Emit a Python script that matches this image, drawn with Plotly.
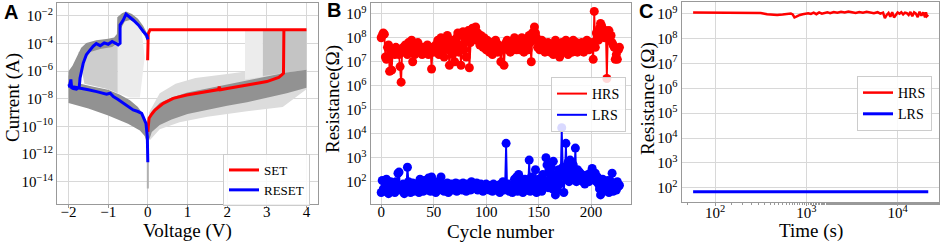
import plotly.graph_objects as go

# ---------------- Panel A data (V, log10 I) ----------------
SET_V = [0.0, 0.03, 0.1, 0.18, 0.39, 0.64, 0.98, 1.31, 1.6, 1.78, 1.8, 1.83, 2.0, 2.32, 2.6, 2.83, 3.0, 3.16, 3.3, 3.37, 3.42, 3.43, 4.0, 0.055, 0.01, -0.005]
SET_LOGI = [-10.4, -9.41, -9.1, -8.81, -8.33, -7.97, -7.72, -7.56, -7.45, -7.33, -7.12, -7.35, -7.25, -7.07, -6.95, -6.83, -6.75, -6.59, -6.45, -6.28, -6.16, -3.0, -3.0, -3.0, -3.3, -5.2]

RESET_V = [0.0, -0.03, -0.11, -0.24, -0.37, -0.49, -0.55, -0.62, -0.70, -0.70, -0.75, -0.8, -0.9, -1.0, -1.1, -1.2, -1.3, -1.38, -1.46, -1.55, -1.63, -1.67, -1.71, -1.73, -1.8, -1.88, -1.92, -1.94, -1.97, -2.0,
           -1.9, -1.71, -1.5, -1.29, -1.04, -0.95, -0.87, -0.75, -0.62, -0.5, -0.37, -0.25, -0.155, -0.047, -0.013, 0.0]
RESET_LOGI = [-3.7, -3.4, -3.14, -2.65, -2.29, -2.0, -1.86, -2.3, -2.65, -3.98, -4.1, -4.0, -3.85, -4.05, -3.95, -4.15, -4.0, -4.2, -4.46, -4.8, -5.43, -6.0, -6.51, -7.17, -7.3, -7.25, -7.2, -6.6, -7.0, -7.07,
              -7.12, -7.24, -7.35, -7.48, -7.67, -7.6, -7.84, -8.05, -8.33, -8.55, -8.81, -8.92, -9.05, -9.78, -10.75, -12.6]

# gray cycle envelopes
NEG_LOW_V = [-2.0, -1.7, -1.4, -1.0, -0.7, -0.45, -0.25, -0.1, -0.03, 0.0, 0.0, -0.02, -0.08, -0.2, -0.5, -1.0, -1.5, -2.0]
NEG_LOW_LOGI = [-6.3, -6.9, -7.1, -7.35, -7.7, -8.1, -8.6, -9.2, -9.9, -10.6, -11.8, -11.2, -10.7, -10.3, -9.8, -9.2, -8.7, -8.3]

POS_LOW_V = [0.0, 0.03, 0.1, 0.3, 0.6, 1.0, 1.5, 2.0, 2.5, 3.0, 3.5, 4.0, 4.0, 3.5, 3.0, 2.5, 2.0, 1.5, 1.0, 0.6, 0.3, 0.1, 0.03, 0.0]
POS_LOW_LOGI = [-10.6, -9.6, -8.9, -8.3, -7.9, -7.55, -7.25, -6.95, -6.7, -6.4, -6.1, -5.9, -7.2, -7.6, -7.95, -8.25, -8.5, -8.8, -9.1, -9.5, -9.9, -10.4, -11.0, -11.8]

POS_FAINT_V = [0.03, 0.3, 0.7, 1.2, 2.0, 2.8, 3.5, 4.0, 4.0, 3.4, 2.5, 1.5, 0.8, 0.3, 0.05]
POS_FAINT_LOGI = [-9.0, -7.6, -6.9, -6.5, -6.2, -5.9, -5.7, -5.6, -7.3, -8.6, -8.9, -9.3, -9.7, -10.2, -11.0]

SET_JUMP_V = [2.9, 4.0, 4.0, 3.5, 2.9]
SET_JUMP_LOGI = [-3.0, -3.0, -5.9, -6.1, -6.35]
SET_JUMP_SPARSE_V = [2.45, 2.9, 2.9, 2.45]
SET_JUMP_SPARSE_LOGI = [-3.0, -3.0, -6.4, -6.6]

NEG_MESH_V = [-1.75, -1.2, -0.76, -0.76, -1.0, -1.3, -1.6]
NEG_MESH_LOGI = [-4.6, -4.3, -3.9, -7.6, -7.3, -7.1, -6.9]
NEG_FAINT_V = [-0.76, -0.5, -0.3, -0.15, -0.08, -0.2, -0.45, -0.76]
NEG_FAINT_LOGI = [-2.3, -2.2, -2.6, -3.2, -5.0, -7.9, -7.9, -7.6]

NEG_DENSE_V = [-2.0, -2.0, -1.9, -1.8, -1.68, -1.55, -1.3, -1.0, -0.85, -0.78, -0.77, -0.65, -0.55, -0.4, -0.25, -0.12, -0.03, 0.0, 0.0, -0.06, -0.18, -0.32, -0.45, -0.58, -0.68, -0.74, -0.9, -1.2, -1.45, -1.58, -1.66, -1.72, -1.8, -1.9]
NEG_DENSE_LOGI = [-7.2, -6.0, -5.6, -5.0, -4.3, -3.95, -3.75, -3.65, -3.55, -3.3, -2.1, -1.8, -1.68, -1.85, -2.2, -2.7, -3.2, -3.6, -4.0, -3.55, -2.95, -2.5, -2.3, -2.4, -2.9, -3.9, -4.25, -4.4, -4.6, -5.1, -5.8, -6.6, -7.2, -7.3]

ZERO_SPIKE_V = [0.0, 0.0]
ZERO_SPIKE_LOGI = [-11.0, -14.5]

A_XTICKS = [-2, -1, 0, 1, 2, 3, 4]
A_YEXP = [-2, -4, -6, -8, -10, -12, -14]

# ---------------- Panel B data (log10 R per cycle) ----------------
HRS_LOG = [
    8.0, 8.1, 8.2, 8.15, 7.2, 7.1, 7.6, 7.7, 6.6, 7.5,
    6.65, 7.4, 7.5, 7.3, 7.6, 7.4, 7.5, 7.3, 6.8, 6.15,
    7.5, 7.6, 7.4, 7.7, 7.5, 7.3, 7.8, 7.6, 7.4, 7.9,
    7.0, 7.5, 7.3, 7.7, 7.6, 7.8, 7.5, 7.4, 7.6, 7.3,
    7.5, 7.6, 7.4, 7.5, 7.7, 7.3, 7.6, 7.5, 6.7, 7.6,
    7.4, 7.6, 7.7, 7.5, 7.9, 7.3, 7.6, 8.0, 7.8, 7.5,
    7.2, 7.6, 7.9, 8.1, 7.5, 6.85, 7.7, 7.9, 7.3, 7.6,
    7.0, 7.8, 8.0, 8.2, 7.4, 7.7, 6.85, 8.2, 8.25, 7.5,
    7.9, 7.2, 8.1, 8.3, 6.75, 7.8, 8.35, 8.4, 8.0, 8.1,
    8.45, 7.9, 8.2, 8.0, 7.7, 8.1, 7.9, 7.6, 8.0, 7.8,
    7.5, 7.9, 7.7, 7.4, 7.6, 7.8, 7.3, 7.7, 7.5, 7.9,
    7.6, 7.4, 7.7, 7.5, 7.0, 7.6, 7.5, 6.85, 7.6, 7.8,
    7.9, 7.5, 7.7, 7.4, 7.6, 7.8, 7.5, 8.0, 7.6, 7.5,
    7.7, 7.9, 7.5, 7.6, 8.0, 7.7, 7.4, 7.8, 7.6, 7.9,
    7.5, 8.1, 7.8, 7.0, 8.2, 7.9, 8.45, 8.2, 8.0, 7.6,
    7.8, 7.5, 7.7, 7.9, 7.6, 7.8, 7.4, 7.7, 7.5, 7.8,
    7.6, 7.4, 7.7, 7.5, 7.3, 7.6, 7.9, 7.4, 7.7, 7.5,
    7.2, 7.6, 7.8, 7.4, 7.7, 7.5, 7.9, 7.6, 7.3, 7.8,
    7.5, 7.7, 7.4, 7.9, 7.6, 7.5, 7.8, 7.4, 7.7, 7.6,
    7.5, 7.8, 7.6, 7.4, 7.7, 7.5, 7.9, 7.6, 7.5, 7.7,
    7.6, 7.8, 7.1, 9.1, 7.6, 8.2, 8.1, 7.9, 8.4, 8.6,
    8.5, 8.3, 8.2, 8.0, 8.3, 6.3, 8.2, 8.3, 8.0, 8.1,
    7.8, 7.7, 7.6, 7.1, 7.3, 7.1, 7.5, 7.6,
]
LRS_LOG = [
    1.55, 2.05, 1.7, 1.6, 1.9, 2.1, 1.75, 1.5, 1.8, 2.0,
    1.6, 1.85, 1.7, 1.55, 2.0, 1.75, 2.35, 2.4, 1.65, 1.8,
    1.7, 1.9, 1.5, 1.6, 1.8, 2.6, 2.0, 1.7, 1.55, 1.85,
    1.95, 1.6, 1.75, 1.9, 1.65, 1.8, 1.55, 2.1, 1.7, 1.85,
    1.6, 2.05, 1.75, 1.9, 1.65, 2.15, 1.8, 1.6, 2.2, 1.7,
    1.85, 1.95, 1.55, 1.75, 2.0, 1.65, 1.8, 2.2, 1.7, 1.9,
    1.6, 1.85, 1.75, 1.95, 1.55, 1.8, 1.7, 1.9, 1.65, 1.85,
    1.75, 1.95, 1.6, 1.8, 1.9, 1.7, 1.85, 1.65, 1.95, 1.75,
    1.8, 1.6, 1.9, 1.75, 1.85, 1.65, 2.0, 1.7, 1.8, 1.9,
    1.75, 1.95, 1.65, 1.85, 1.7, 1.9, 1.8, 1.6, 1.85, 1.75,
    1.9, 1.7, 1.8, 1.65, 1.85, 1.75, 1.6, 1.9, 1.7, 1.8,
    1.65, 1.85, 1.75, 1.55, 1.9, 1.7, 2.0, 1.65, 1.8, 3.6,
    1.7, 1.9, 1.6, 1.8, 1.75, 1.55, 1.9, 2.1, 1.7, 2.2,
    1.6, 2.3, 1.85, 1.7, 2.0, 1.55, 1.9, 2.1, 1.75, 1.65,
    1.8, 2.9, 1.6, 2.2, 1.7, 1.9, 1.75, 2.5, 1.55, 2.0,
    2.1, 1.7, 1.85, 1.6, 2.3, 1.8, 2.05, 3.0, 2.7, 1.75,
    2.4, 1.9, 2.6, 1.7, 2.85, 2.0, 1.45, 2.3, 1.65, 2.5,
    1.9, 2.2, 4.25, 2.6, 1.55, 2.3, 3.6, 2.1, 2.8, 2.0,
    2.9, 2.4, 2.1, 2.7, 2.3, 3.4, 2.0, 2.5, 2.2, 2.4,
    2.1, 2.3, 2.0, 2.25, 1.9, 2.2, 2.1, 2.3, 2.0, 2.15,
    2.4, 2.55, 2.2, 2.1, 2.35, 2.0, 2.2, 1.9, 1.7, 1.45,
    1.95, 2.1, 1.6, 2.0, 1.85, 1.65, 2.05, 1.55, 1.8, 2.0,
    2.35, 1.6, 1.9, 1.75, 1.65, 2.0, 1.8, 1.85,
]
CYCLES = list(range(len(HRS_LOG)))
B_XTICKS = [0, 50, 100, 150, 200]
B_YEXP = [2, 3, 4, 5, 6, 7, 8, 9]

# ---------------- Panel C data (log10 t, log10 R) ----------------
C_HRS_LOGT = [1.76, 1.85, 1.95, 2.05, 2.15, 2.25, 2.35, 2.42, 2.5, 2.57, 2.63, 2.68, 2.74, 2.79, 2.83, 2.85, 2.87, 2.89, 2.91, 2.93,
              2.96, 2.99, 3.02, 3.05, 3.08, 3.11, 3.14, 3.17, 3.2, 3.23, 3.26, 3.3, 3.34, 3.38, 3.42, 3.46, 3.5, 3.54, 3.58, 3.62,
              3.66, 3.7, 3.74, 3.78, 3.81, 3.84, 3.86, 3.88, 3.9, 3.92, 3.94, 3.96, 3.98, 4.0, 4.02, 4.04, 4.06, 4.08, 4.1, 4.12,
              4.14, 4.16, 4.18, 4.2, 4.22, 4.24, 4.26, 4.28, 4.3, 4.31, 4.32, 4.335]
C_HRS_LOGR = [9.05, 9.05, 9.05, 9.05, 9.04, 9.02, 9.04, 9.05, 9.03, 8.98, 8.96, 8.95, 8.97, 9.0, 9.01, 8.97, 8.85, 8.88, 8.92, 8.95,
              8.98, 9.0, 9.02, 8.99, 9.04, 8.98, 9.05, 9.0, 9.03, 9.06, 9.02, 9.07, 9.04, 9.08, 9.05, 9.09, 9.06, 9.03, 9.07, 9.04,
              9.08, 9.05, 9.02, 9.06, 9.0, 9.04, 8.82, 8.95, 9.03, 8.88, 9.06, 8.85, 8.98, 9.05, 9.0, 9.06, 8.97, 9.04, 9.02, 8.95,
              9.07, 8.9, 9.05, 9.0, 8.86, 9.08, 8.92, 9.05, 8.85, 9.06, 8.9, 8.95]
C_LRS_LOGT = [1.76, 4.335]
C_LRS_LOGR = [1.84, 1.84]
C_XEXP = [2, 3, 4]
C_YEXP = [2, 3, 4, 5, 6, 7, 8, 9]

# ---------------- helpers ----------------
W, H = 941, 244
def px(x):
    return x / W
def py(y):
    return 1 - y / H
def p10(vals):
    return [10 ** v for v in vals]
def sup(e):
    s = str(e).replace('-', '\u2212')
    return '10<sup>' + s + '</sup>'

SERIF = 'Liberation Serif, Times New Roman, serif'
RED = '#ff0000'
BLUE = '#0000ff'
FRAME = '#999999'
GRID = '#d8d8d8'

fig = go.Figure()

def poly(xs, ys, color, xa, ya):
    fig.add_trace(go.Scatter(x=xs + [xs[0]], y=p10(ys) + [10 ** ys[0]], mode='lines', fill='toself',
                             fillcolor=color, line=dict(width=0, color=color), showlegend=False,
                             hoverinfo='skip', xaxis=xa, yaxis=ya))

# Panel A gray bundle
poly(NEG_FAINT_V, NEG_FAINT_LOGI, '#ececec', 'x', 'y')
poly(NEG_MESH_V, NEG_MESH_LOGI, '#cdcdcd', 'x', 'y')
poly(POS_FAINT_V, POS_FAINT_LOGI, '#dcdcdc', 'x', 'y')
poly(SET_JUMP_SPARSE_V, SET_JUMP_SPARSE_LOGI, '#ececec', 'x', 'y')
poly(SET_JUMP_V, SET_JUMP_LOGI, '#c4c4c4', 'x', 'y')
poly(NEG_LOW_V, NEG_LOW_LOGI, '#929292', 'x', 'y')
poly(POS_LOW_V, POS_LOW_LOGI, '#929292', 'x', 'y')
poly(NEG_DENSE_V, NEG_DENSE_LOGI, '#929292', 'x', 'y')
fig.add_trace(go.Scatter(x=ZERO_SPIKE_V, y=p10(ZERO_SPIKE_LOGI), mode='lines', line=dict(color='#b0b0b0', width=2),
                         showlegend=False, hoverinfo='skip', xaxis='x', yaxis='y'))

fig.add_trace(go.Scatter(x=SET_V, y=p10(SET_LOGI), mode='lines', name='SET', line=dict(color=RED, width=3),
                         xaxis='x', yaxis='y', legend='legend'))
fig.add_trace(go.Scatter(x=RESET_V, y=p10(RESET_LOGI), mode='lines', name='RESET', line=dict(color=BLUE, width=3),
                         xaxis='x', yaxis='y', legend='legend'))

# Panel B (markers drawn; legend shows plain lines like the reference)
fig.add_trace(go.Scatter(x=CYCLES, y=p10(HRS_LOG), mode='lines+markers', name='HRS', showlegend=False,
                         line=dict(color=RED, width=1.8), marker=dict(color=RED, size=9),
                         xaxis='x2', yaxis='y2'))
fig.add_trace(go.Scatter(x=CYCLES, y=p10(LRS_LOG), mode='lines+markers', name='LRS', showlegend=False,
                         line=dict(color=BLUE, width=1.8), marker=dict(color=BLUE, size=9),
                         xaxis='x2', yaxis='y2'))
fig.add_trace(go.Scatter(x=[None], y=[None], mode='lines', name='HRS', line=dict(color=RED, width=2),
                         xaxis='x2', yaxis='y2', legend='legend2'))
fig.add_trace(go.Scatter(x=[None], y=[None], mode='lines', name='LRS', line=dict(color=BLUE, width=2),
                         xaxis='x2', yaxis='y2', legend='legend2'))

# Panel C
fig.add_trace(go.Scatter(x=p10(C_HRS_LOGT), y=p10(C_HRS_LOGR), mode='lines', name='HRS',
                         line=dict(color=RED, width=2.5), xaxis='x3', yaxis='y3', legend='legend3'))
fig.add_trace(go.Scatter(x=p10(C_LRS_LOGT), y=p10(C_LRS_LOGR), mode='lines', name='LRS',
                         line=dict(color=BLUE, width=3), xaxis='x3', yaxis='y3', legend='legend3'))

tickfont = dict(family=SERIF, size=15, color='black')
common = dict(showline=True, mirror=True, linecolor=FRAME, linewidth=1.2, showgrid=True, gridcolor=GRID,
              gridwidth=1, zeroline=False, tickfont=tickfont, automargin=False)

legbase = dict(xanchor='left', yanchor='top', bgcolor='rgba(255,255,255,0.85)', bordercolor='#cccccc',
               borderwidth=1, tracegroupgap=0, itemwidth=30)
layout = dict(
    width=W, height=H, autosize=False,
    margin=dict(l=0, r=0, t=0, b=0, pad=0, autoexpand=False),
    paper_bgcolor='white', plot_bgcolor='white',
    xaxis=dict(domain=[px(57), px(318)], anchor='y', range=[-2.29, 4.29], tickvals=A_XTICKS,
               ticktext=[str(v).replace('-', '\u2212') for v in A_XTICKS], ticks='outside', ticklen=3, tickcolor=FRAME,
               ticklabelstandoff=-9, **common),
    yaxis=dict(domain=[py(204.3), py(3)], anchor='x', type='log', range=[-15.64, -1.06],
               tickvals=[10 ** e for e in A_YEXP], ticktext=[sup(e) for e in A_YEXP], ticks='', **common),
    xaxis2=dict(domain=[px(370.7), px(631)], anchor='y2', range=[-10, 238], tickvals=B_XTICKS,
                ticks='outside', ticklen=3, tickcolor=FRAME, ticklabelstandoff=-9, **common),
    yaxis2=dict(domain=[py(204), py(3)], anchor='x2', type='log', range=[1.07, 9.45],
                tickvals=[10 ** e for e in B_YEXP], ticktext=[sup(e) for e in B_YEXP], ticks='', **common),
    xaxis3=dict(domain=[px(681.7), px(939.3)], anchor='y3', type='log', range=[1.635, 4.456],
                tickvals=[10 ** e for e in C_XEXP], ticktext=[sup(e) for e in C_XEXP], ticks='outside', ticklen=3,
                tickcolor=FRAME, ticklabelstandoff=-6,
                minor=dict(ticks='outside', ticklen=2, tickcolor=FRAME, showgrid=False), **common),
    yaxis3=dict(domain=[py(201.7), py(1.5)], anchor='x3', type='log', range=[1.44, 9.49],
                tickvals=[10 ** e for e in C_YEXP], ticktext=[sup(e) for e in C_YEXP], ticks='', **common),
    legend=dict(x=px(223), y=py(154), font=dict(family=SERIF, size=13, color='black'), **legbase),
    legend2=dict(x=px(551), y=py(77), font=dict(family=SERIF, size=14, color='black'), **legbase),
    legend3=dict(x=px(857), y=py(76), font=dict(family=SERIF, size=14, color='black'), **legbase),
    showlegend=True,
)
fig.update_layout(**layout)

titlefont = dict(family=SERIF, size=19, color='black')
letterfont = dict(family='Liberation Sans, Arial, sans-serif', size=20, color='black')
ann = [
    dict(text='Current (A)', x=px(13), y=py(98), textangle=-90, font=titlefont),
    dict(text='Resistance(\u03a9)', x=px(333), y=py(99), textangle=-90, font=titlefont),
    dict(text='Resistance (\u03a9)', x=px(648), y=py(99), textangle=-90, font=titlefont),
    dict(text='Voltage (V)', x=px(187), y=py(231), font=titlefont),
    dict(text='Cycle number', x=px(501), y=py(231), font=titlefont),
    dict(text='Time (s)', x=px(811), y=py(231), font=titlefont),
    dict(text='<b>A</b>', x=px(11), y=py(12), font=letterfont),
    dict(text='<b>B</b>', x=px(334), y=py(10), font=letterfont),
    dict(text='<b>C</b>', x=px(646), y=py(10.5), font=letterfont),
]
for a in ann:
    fig.add_annotation(xref='paper', yref='paper', showarrow=False, xanchor='center', yanchor='middle', **a)

fig.write_html('out.html', config={'displayModeBar': False},
               post_script="document.body.style.margin='0px';document.body.style.overflow='hidden';")
